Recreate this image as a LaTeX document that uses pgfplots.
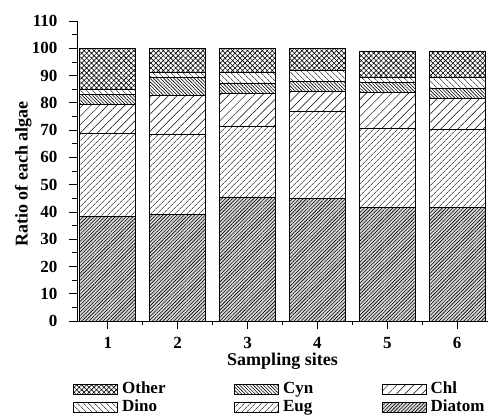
\documentclass[border=0pt]{standalone}
\usepackage{pgfplots}
\pgfplotsset{compat=1.18}
\usepackage{fontspec}
\setmainfont{Liberation Serif}
\usetikzlibrary{patterns.meta}
\tikzset{
  pOther/.style={pattern={Hatch[angle=45,distance=3.5pt,line width=0.6pt]}},
  pCyn/.style={pattern={Lines[angle=-45,distance=2.4pt,line width=0.6pt]}},
  pChl/.style={pattern={Lines[angle=45,distance=6pt,line width=0.5pt]}},
  pDino/.style={pattern={Lines[angle=-45,distance=4pt,line width=0.5pt]}},
  pEug/.style={pattern={Lines[angle=45,distance=4pt,line width=0.6pt]}},
  pDiatom/.style={fill=gray!30,postaction={pattern={Lines[angle=45,distance=2.5pt,line width=0.6pt]}}},
}
\pgfplotstableread{
site Diatom Eug Chl Cyn Dino Other
1 38.2 30.7 10.7 3.4 2.1 14.9
2 39.1 29.3 14.5 6.5 1.8 8.8
3 45.5 26.0 11.8 4.0 3.9 8.8
4 44.9 31.9 7.3 3.8 3.9 8.2
5 41.6 28.9 13.4 3.7 1.8 9.6
6 41.6 28.6 11.5 3.7 4.0 9.6
}\datatable
\begin{document}
\begin{tikzpicture}
\begin{axis}[
  scale only axis,
  width=411pt, height=300pt,
  ybar stacked, bar width=0.8,
  xmin=0.56, xmax=6.44,
  ymin=0, ymax=110,
  axis x line*=bottom, axis y line*=left,
  xtick={1,2,3,4,5,6},
  minor xtick={1.5,2.5,3.5,4.5,5.5},
  ytick={0,10,...,110},
  minor ytick={5,15,...,105},
  tick align=outside,
  major tick length=8pt, minor tick length=4.5pt,
  tick style={black, line width=0.8pt},
  axis line style={line width=0.9pt},
  /pgf/number format/assume math mode=true,
  ticklabel style={font=\fontsize{17}{19}\selectfont\bfseries},
  yticklabel style={xshift=-8pt},
  xticklabel style={inner sep=1pt, yshift=-7.5pt},
  xlabel={Sampling sites},
  ylabel={Ratio of each algae},
  label style={font=\fontsize{18}{20}\selectfont\bfseries},
  xlabel style={at={(axis description cs:0.5,0)}, anchor=base, inner sep=1pt, yshift=-45pt},
  ylabel style={at={(axis description cs:-0.131,0.49)}, anchor=center},
  legend columns=3,
  legend cell align=left,
  legend style={at={(axis description cs:-0.0097,0)}, anchor=north west,
    yshift=-59pt, inner sep=0pt, draw=none,
    font=\fontsize{17}{19}\selectfont\bfseries,
    nodes={inner sep=1.5pt, text height=12pt, text depth=3pt},
    row sep=0pt,
    /tikz/every even column/.append style={column sep=67pt}},
  legend image code/.code={\draw[#1, line width=0.5pt] (0pt,-5pt) rectangle (44pt,5pt); \path (47pt,0pt);},
]
\addplot[draw=black, line width=0.7pt, pDiatom, forget plot] table[x=site,y=Diatom]{\datatable};
\addplot[draw=black, line width=0.7pt, pEug, forget plot] table[x=site,y=Eug]{\datatable};
\addplot[draw=black, line width=0.7pt, pChl, forget plot] table[x=site,y=Chl]{\datatable};
\addplot[draw=black, line width=0.7pt, pCyn, forget plot] table[x=site,y=Cyn]{\datatable};
\addplot[draw=black, line width=0.7pt, pDino, forget plot] table[x=site,y=Dino]{\datatable};
\addplot[draw=black, line width=0.7pt, pOther, forget plot] table[x=site,y=Other]{\datatable};
\addlegendimage{draw=black, pOther}\addlegendentry{Other}
\addlegendimage{draw=black, pCyn}\addlegendentry{Cyn}
\addlegendimage{draw=black, pChl}\addlegendentry{Chl}
\addlegendimage{draw=black, pDino}\addlegendentry{Dino}
\addlegendimage{draw=black, pEug}\addlegendentry{Eug}
\addlegendimage{draw=black, pDiatom}\addlegendentry{Diatom}
\end{axis}
\pgfresetboundingbox
\path ([xshift=-77pt,yshift=21pt]current axis.north west) rectangle ([xshift=5pt,yshift=-96pt]current axis.south east);
\end{tikzpicture}
\end{document}
